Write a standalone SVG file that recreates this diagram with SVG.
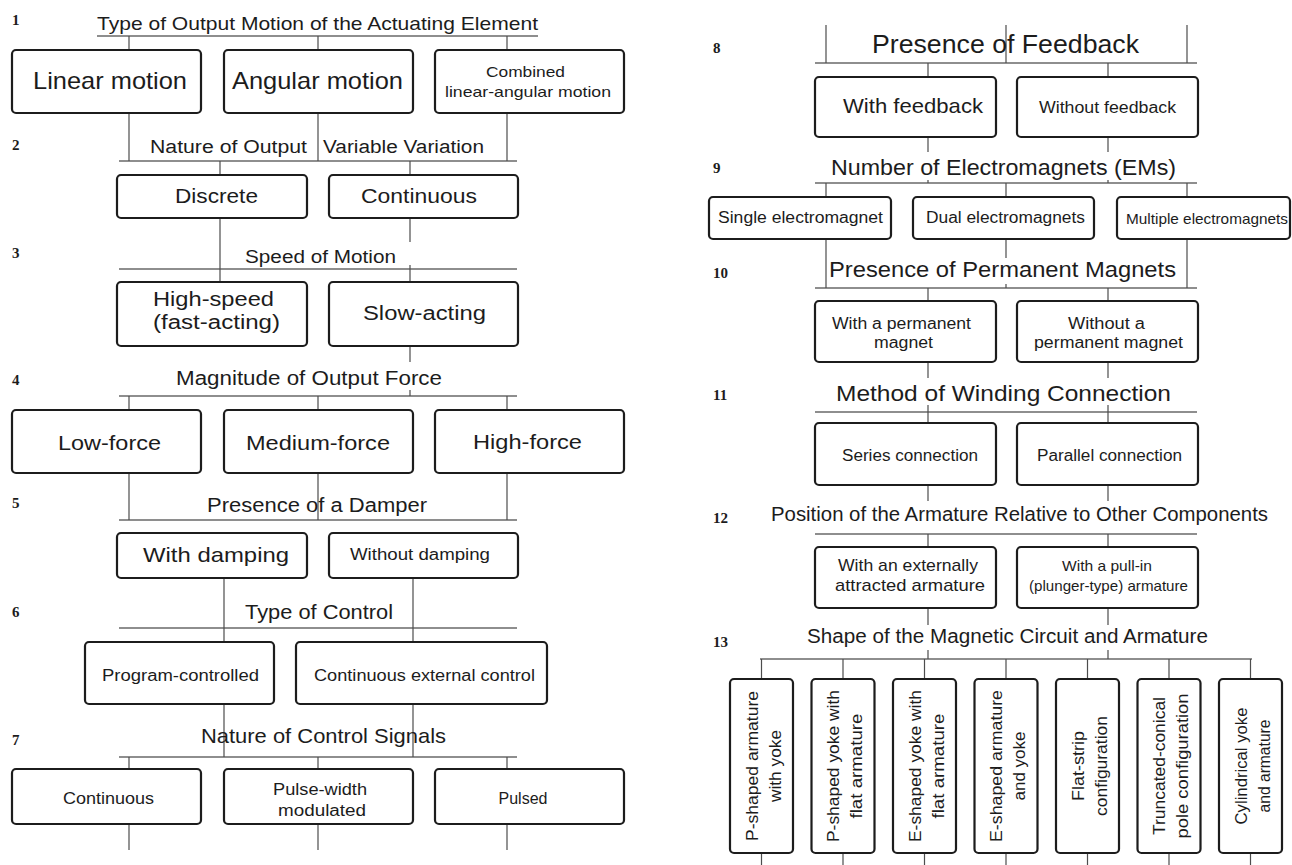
<svg xmlns="http://www.w3.org/2000/svg" width="1292" height="865" viewBox="0 0 1292 865">
<style>
.bg{fill:#fff}
.bx{fill:#fff;stroke:#1c1c1c;stroke-width:2.2}
.ln{stroke:#4d4d4d;stroke-width:1.2;fill:none}
.bar{stroke:#6a6a6a;stroke-width:1.6;fill:none}
.t{font-family:"Liberation Sans",Arial,sans-serif;fill:#1c1c1c;text-anchor:middle}
.n{font-family:"Liberation Serif","Times New Roman",serif;font-weight:bold;fill:#1c1c1c;font-size:15px}
</style>
<rect class="bg" x="0" y="0" width="1292" height="865"/>

<g id="connectors">
<!-- left column -->
<path class="bar" d="M97 36H538M119 161H517M119 269H517M119 396H517M119 520H517M119 628H517M119 757H517"/>
<path class="ln" d="M129 36V50M318 36V50M507 36V50
M129 113V161M318 113V161M507 113V161
M220 161V175M410 161V175
M220 218V282M410 218V242M410 265V282
M410 346V362M410 390V396
M129 396V410M318 396V410M507 396V410
M129 473V520M318 473V520M507 473V520
M224 578V642M413 578V642
M224 704V757M413 704V757
M129 757V769M318 757V769M507 757V769
M129 824V850M318 824V850M507 824V850"/>
<!-- right column -->
<path class="bar" d="M815 63H1197M815 183H1197M815 288H1197M815 412H1197M815 534H1197M760 659H1252"/>
<path class="ln" d="M826 25V63M1006 25V63M1187 25V63
M928 63V77M1108 63V77
M928 137V152M1108 137V152M928 180V183M1108 180V183
M826 183V197M1006 183V197M1187 183V197
M826 239V288M1006 239V258M1006 284V288M1187 239V288
M928 288V301M1108 288V301
M928 362V378M1108 362V378M928 405V423M1108 405V423
M928 485V501M1108 485V501
M928 534V547M1108 534V547
M928 608V625M1108 608V625M928 650V659M1108 650V659
M761.5 659V679M843 659V679M924.5 659V679M1006 659V679M1087.5 659V679M1169 659V679M1250.5 659V679
M761.5 853V865M843 853V865M924.5 853V865M1006 853V865M1087.5 853V865M1169 853V865M1250.5 853V865"/>
</g>

<!-- category headers -->
<g id="cat1"><text class="n" x="12" y="25">1</text><text class="t" x="317.5" y="30" font-size="19" textLength="441" lengthAdjust="spacingAndGlyphs">Type of Output Motion of the Actuating Element</text></g>
<g id="cat2"><text class="n" x="12" y="150">2</text><text class="t" x="228.5" y="153" font-size="18" textLength="157" lengthAdjust="spacingAndGlyphs">Nature of Output</text><text class="t" x="403.5" y="153" font-size="18" textLength="161" lengthAdjust="spacingAndGlyphs">Variable Variation</text></g>
<g id="cat3"><text class="n" x="12" y="258">3</text><text class="t" x="320.5" y="263" font-size="18" textLength="151" lengthAdjust="spacingAndGlyphs">Speed of Motion</text></g>
<g id="cat4"><text class="n" x="12" y="385">4</text><text class="t" x="309" y="385" font-size="20" textLength="266" lengthAdjust="spacingAndGlyphs">Magnitude of Output Force</text></g>
<g id="cat5"><text class="n" x="12" y="508">5</text><text class="t" x="317" y="512" font-size="20" textLength="220" lengthAdjust="spacingAndGlyphs">Presence of a Damper</text></g>
<g id="cat6"><text class="n" x="12" y="617">6</text><text class="t" x="319" y="619" font-size="20" textLength="148" lengthAdjust="spacingAndGlyphs">Type of Control</text></g>
<g id="cat7"><text class="n" x="12" y="745">7</text><text class="t" x="323.5" y="743" font-size="21" textLength="245" lengthAdjust="spacingAndGlyphs">Nature of Control Signals</text></g>
<g id="cat8"><text class="n" x="713" y="53">8</text><text class="t" x="1005.5" y="53" font-size="25" textLength="267" lengthAdjust="spacingAndGlyphs">Presence of Feedback</text></g>
<g id="cat9"><text class="n" x="713" y="173">9</text><text class="t" x="1003.5" y="175" font-size="22" textLength="345" lengthAdjust="spacingAndGlyphs">Number of Electromagnets (EMs)</text></g>
<g id="cat10"><text class="n" x="713" y="278">10</text><text class="t" x="1002.5" y="277" font-size="22" textLength="347" lengthAdjust="spacingAndGlyphs">Presence of Permanent Magnets</text></g>
<g id="cat11"><text class="n" x="713" y="400">11</text><text class="t" x="1003.5" y="401" font-size="22" textLength="335" lengthAdjust="spacingAndGlyphs">Method of Winding Connection</text></g>
<g id="cat12"><text class="n" x="713" y="523">12</text><text class="t" x="1019.5" y="521" font-size="20" textLength="497" lengthAdjust="spacingAndGlyphs">Position of the Armature Relative to Other Components</text></g>
<g id="cat13"><text class="n" x="713" y="647">13</text><text class="t" x="1007.5" y="643" font-size="20" textLength="401" lengthAdjust="spacingAndGlyphs">Shape of the Magnetic Circuit and Armature</text></g>

<!-- left nodes -->
<g id="linear-motion"><rect class="bx" x="12" y="50" width="189" height="63" rx="4"/><text class="t" x="110" y="89" font-size="24" textLength="154" lengthAdjust="spacingAndGlyphs">Linear motion</text></g>
<g id="angular-motion"><rect class="bx" x="224" y="50" width="189" height="63" rx="4"/><text class="t" x="317.5" y="89" font-size="24" textLength="171" lengthAdjust="spacingAndGlyphs">Angular motion</text></g>
<g id="combined-motion"><rect class="bx" x="435" y="50" width="189" height="63" rx="4"/><text class="t" x="525.5" y="77" font-size="15" textLength="79" lengthAdjust="spacingAndGlyphs">Combined</text><text class="t" x="528" y="97" font-size="15" textLength="166" lengthAdjust="spacingAndGlyphs">linear-angular motion</text></g>

<g id="discrete"><rect class="bx" x="117" y="175" width="190" height="43" rx="4"/><text class="t" x="216.5" y="203" font-size="20" textLength="83" lengthAdjust="spacingAndGlyphs">Discrete</text></g>
<g id="continuous-var"><rect class="bx" x="329" y="175" width="189" height="43" rx="4"/><text class="t" x="419" y="203" font-size="20" textLength="116" lengthAdjust="spacingAndGlyphs">Continuous</text></g>

<g id="high-speed"><rect class="bx" x="117" y="282" width="190" height="64" rx="4"/><text class="t" x="213.5" y="306" font-size="20" textLength="121" lengthAdjust="spacingAndGlyphs">High-speed</text><text class="t" x="216.5" y="329" font-size="20" textLength="127" lengthAdjust="spacingAndGlyphs">(fast-acting)</text></g>
<g id="slow-acting"><rect class="bx" x="329" y="282" width="189" height="64" rx="4"/><text class="t" x="424.5" y="320" font-size="20" textLength="123" lengthAdjust="spacingAndGlyphs">Slow-acting</text></g>

<g id="low-force"><rect class="bx" x="12" y="410" width="189" height="63" rx="4"/><text class="t" x="109.5" y="450" font-size="20" textLength="103" lengthAdjust="spacingAndGlyphs">Low-force</text></g>
<g id="medium-force"><rect class="bx" x="224" y="410" width="189" height="63" rx="4"/><text class="t" x="318" y="450" font-size="20" textLength="144" lengthAdjust="spacingAndGlyphs">Medium-force</text></g>
<g id="high-force"><rect class="bx" x="435" y="410" width="189" height="63" rx="4"/><text class="t" x="527.5" y="449" font-size="20" textLength="109" lengthAdjust="spacingAndGlyphs">High-force</text></g>

<g id="with-damping"><rect class="bx" x="117" y="533" width="190" height="45" rx="4"/><text class="t" x="216" y="562" font-size="21" textLength="146" lengthAdjust="spacingAndGlyphs">With damping</text></g>
<g id="without-damping"><rect class="bx" x="329" y="533" width="189" height="45" rx="4"/><text class="t" x="420" y="560" font-size="16" textLength="140" lengthAdjust="spacingAndGlyphs">Without damping</text></g>

<g id="program-controlled"><rect class="bx" x="85" y="642" width="189" height="62" rx="4"/><text class="t" x="180.5" y="681" font-size="16" textLength="157" lengthAdjust="spacingAndGlyphs">Program-controlled</text></g>
<g id="continuous-external"><rect class="bx" x="296" y="642" width="251" height="62" rx="4"/><text class="t" x="424.5" y="681" font-size="16" textLength="221" lengthAdjust="spacingAndGlyphs">Continuous external control</text></g>

<g id="continuous-signal"><rect class="bx" x="12" y="769" width="189" height="55" rx="4"/><text class="t" x="108.5" y="804" font-size="16" textLength="91" lengthAdjust="spacingAndGlyphs">Continuous</text></g>
<g id="pwm"><rect class="bx" x="224" y="769" width="189" height="55" rx="4"/><text class="t" x="320" y="795" font-size="16" textLength="94" lengthAdjust="spacingAndGlyphs">Pulse-width</text><text class="t" x="322" y="816" font-size="16" textLength="88" lengthAdjust="spacingAndGlyphs">modulated</text></g>
<g id="pulsed"><rect class="bx" x="435" y="769" width="189" height="55" rx="4"/><text class="t" x="523" y="804" font-size="16">Pulsed</text></g>

<!-- right nodes -->
<g id="with-feedback"><rect class="bx" x="815" y="77" width="181" height="60" rx="4"/><text class="t" x="913" y="113" font-size="21" textLength="140" lengthAdjust="spacingAndGlyphs">With feedback</text></g>
<g id="without-feedback"><rect class="bx" x="1017" y="77" width="181" height="60" rx="4"/><text class="t" x="1107.5" y="113" font-size="16" textLength="137" lengthAdjust="spacingAndGlyphs">Without feedback</text></g>

<g id="single-em"><rect class="bx" x="709" y="197" width="182" height="42" rx="4"/><text class="t" x="800.5" y="223" font-size="16" textLength="165" lengthAdjust="spacingAndGlyphs">Single electromagnet</text></g>
<g id="dual-em"><rect class="bx" x="913" y="197" width="181" height="42" rx="4"/><text class="t" x="1005.5" y="223" font-size="16" textLength="159" lengthAdjust="spacingAndGlyphs">Dual electromagnets</text></g>
<g id="multiple-em"><rect class="bx" x="1117" y="197" width="173" height="42" rx="4"/><text class="t" x="1207" y="224" font-size="15" textLength="162" lengthAdjust="spacingAndGlyphs">Multiple electromagnets</text></g>

<g id="with-pm"><rect class="bx" x="815" y="301" width="181" height="61" rx="4"/><text class="t" x="901.5" y="329" font-size="16" textLength="139" lengthAdjust="spacingAndGlyphs">With a permanent</text><text class="t" x="903.5" y="348" font-size="16" textLength="59" lengthAdjust="spacingAndGlyphs">magnet</text></g>
<g id="without-pm"><rect class="bx" x="1017" y="301" width="181" height="61" rx="4"/><text class="t" x="1106.5" y="329" font-size="16" textLength="77" lengthAdjust="spacingAndGlyphs">Without a</text><text class="t" x="1108.5" y="348" font-size="16" textLength="149" lengthAdjust="spacingAndGlyphs">permanent magnet</text></g>

<g id="series"><rect class="bx" x="815" y="423" width="181" height="62" rx="4"/><text class="t" x="910" y="461" font-size="16" textLength="136" lengthAdjust="spacingAndGlyphs">Series connection</text></g>
<g id="parallel"><rect class="bx" x="1017" y="423" width="181" height="62" rx="4"/><text class="t" x="1109.5" y="461" font-size="16" textLength="145" lengthAdjust="spacingAndGlyphs">Parallel connection</text></g>

<g id="external-armature"><rect class="bx" x="815" y="547" width="181" height="61" rx="4"/><text class="t" x="908" y="571" font-size="17" textLength="140" lengthAdjust="spacingAndGlyphs">With an externally</text><text class="t" x="910" y="591" font-size="17" textLength="150" lengthAdjust="spacingAndGlyphs">attracted armature</text></g>
<g id="plunger-armature"><rect class="bx" x="1017" y="547" width="181" height="61" rx="4"/><text class="t" x="1107" y="571" font-size="15" textLength="90" lengthAdjust="spacingAndGlyphs">With a pull-in</text><text class="t" x="1108.5" y="591" font-size="15" textLength="159" lengthAdjust="spacingAndGlyphs">(plunger-type) armature</text></g>

<!-- vertical nodes -->
<g id="p-armature-yoke"><rect class="bx" x="730" y="679" width="63" height="174" rx="4"/><g transform="translate(761.5 766) rotate(-90)"><text class="t" x="0" y="-4" font-size="16" textLength="150" lengthAdjust="spacingAndGlyphs">P-shaped armature</text><text class="t" x="0" y="19" font-size="16" textLength="72" lengthAdjust="spacingAndGlyphs">with yoke</text></g></g>
<g id="p-yoke-flat"><rect class="bx" x="811.5" y="679" width="63" height="174" rx="4"/><g transform="translate(843 766) rotate(-90)"><text class="t" x="0" y="-4" font-size="16" textLength="152" lengthAdjust="spacingAndGlyphs">P-shaped yoke with</text><text class="t" x="0" y="19" font-size="16" textLength="105" lengthAdjust="spacingAndGlyphs">flat armature</text></g></g>
<g id="e-yoke-flat"><rect class="bx" x="893" y="679" width="63" height="174" rx="4"/><g transform="translate(924.5 766) rotate(-90)"><text class="t" x="0" y="-4" font-size="16" textLength="152" lengthAdjust="spacingAndGlyphs">E-shaped yoke with</text><text class="t" x="0" y="19" font-size="16" textLength="105" lengthAdjust="spacingAndGlyphs">flat armature</text></g></g>
<g id="e-armature-yoke"><rect class="bx" x="974.5" y="679" width="63" height="174" rx="4"/><g transform="translate(1006 766) rotate(-90)"><text class="t" x="0" y="-4" font-size="16" textLength="152" lengthAdjust="spacingAndGlyphs">E-shaped armature</text><text class="t" x="0" y="19" font-size="16" textLength="69" lengthAdjust="spacingAndGlyphs">and yoke</text></g></g>
<g id="flat-strip"><rect class="bx" x="1056" y="679" width="63" height="174" rx="4"/><g transform="translate(1087.5 766) rotate(-90)"><text class="t" x="0" y="-4" font-size="16" textLength="70" lengthAdjust="spacingAndGlyphs">Flat-strip</text><text class="t" x="0" y="19" font-size="16" textLength="100" lengthAdjust="spacingAndGlyphs">configuration</text></g></g>
<g id="truncated-conical"><rect class="bx" x="1137.5" y="679" width="63" height="174" rx="4"/><g transform="translate(1169 766) rotate(-90)"><text class="t" x="0" y="-4" font-size="16" textLength="138" lengthAdjust="spacingAndGlyphs">Truncated-conical</text><text class="t" x="0" y="19" font-size="16" textLength="145" lengthAdjust="spacingAndGlyphs">pole configuration</text></g></g>
<g id="cylindrical"><rect class="bx" x="1219" y="679" width="63" height="174" rx="4"/><g transform="translate(1250.5 766) rotate(-90)"><text class="t" x="0" y="-4" font-size="16" textLength="117" lengthAdjust="spacingAndGlyphs">Cylindrical yoke</text><text class="t" x="0" y="19" font-size="16" textLength="93" lengthAdjust="spacingAndGlyphs">and armature</text></g></g>
</svg>
